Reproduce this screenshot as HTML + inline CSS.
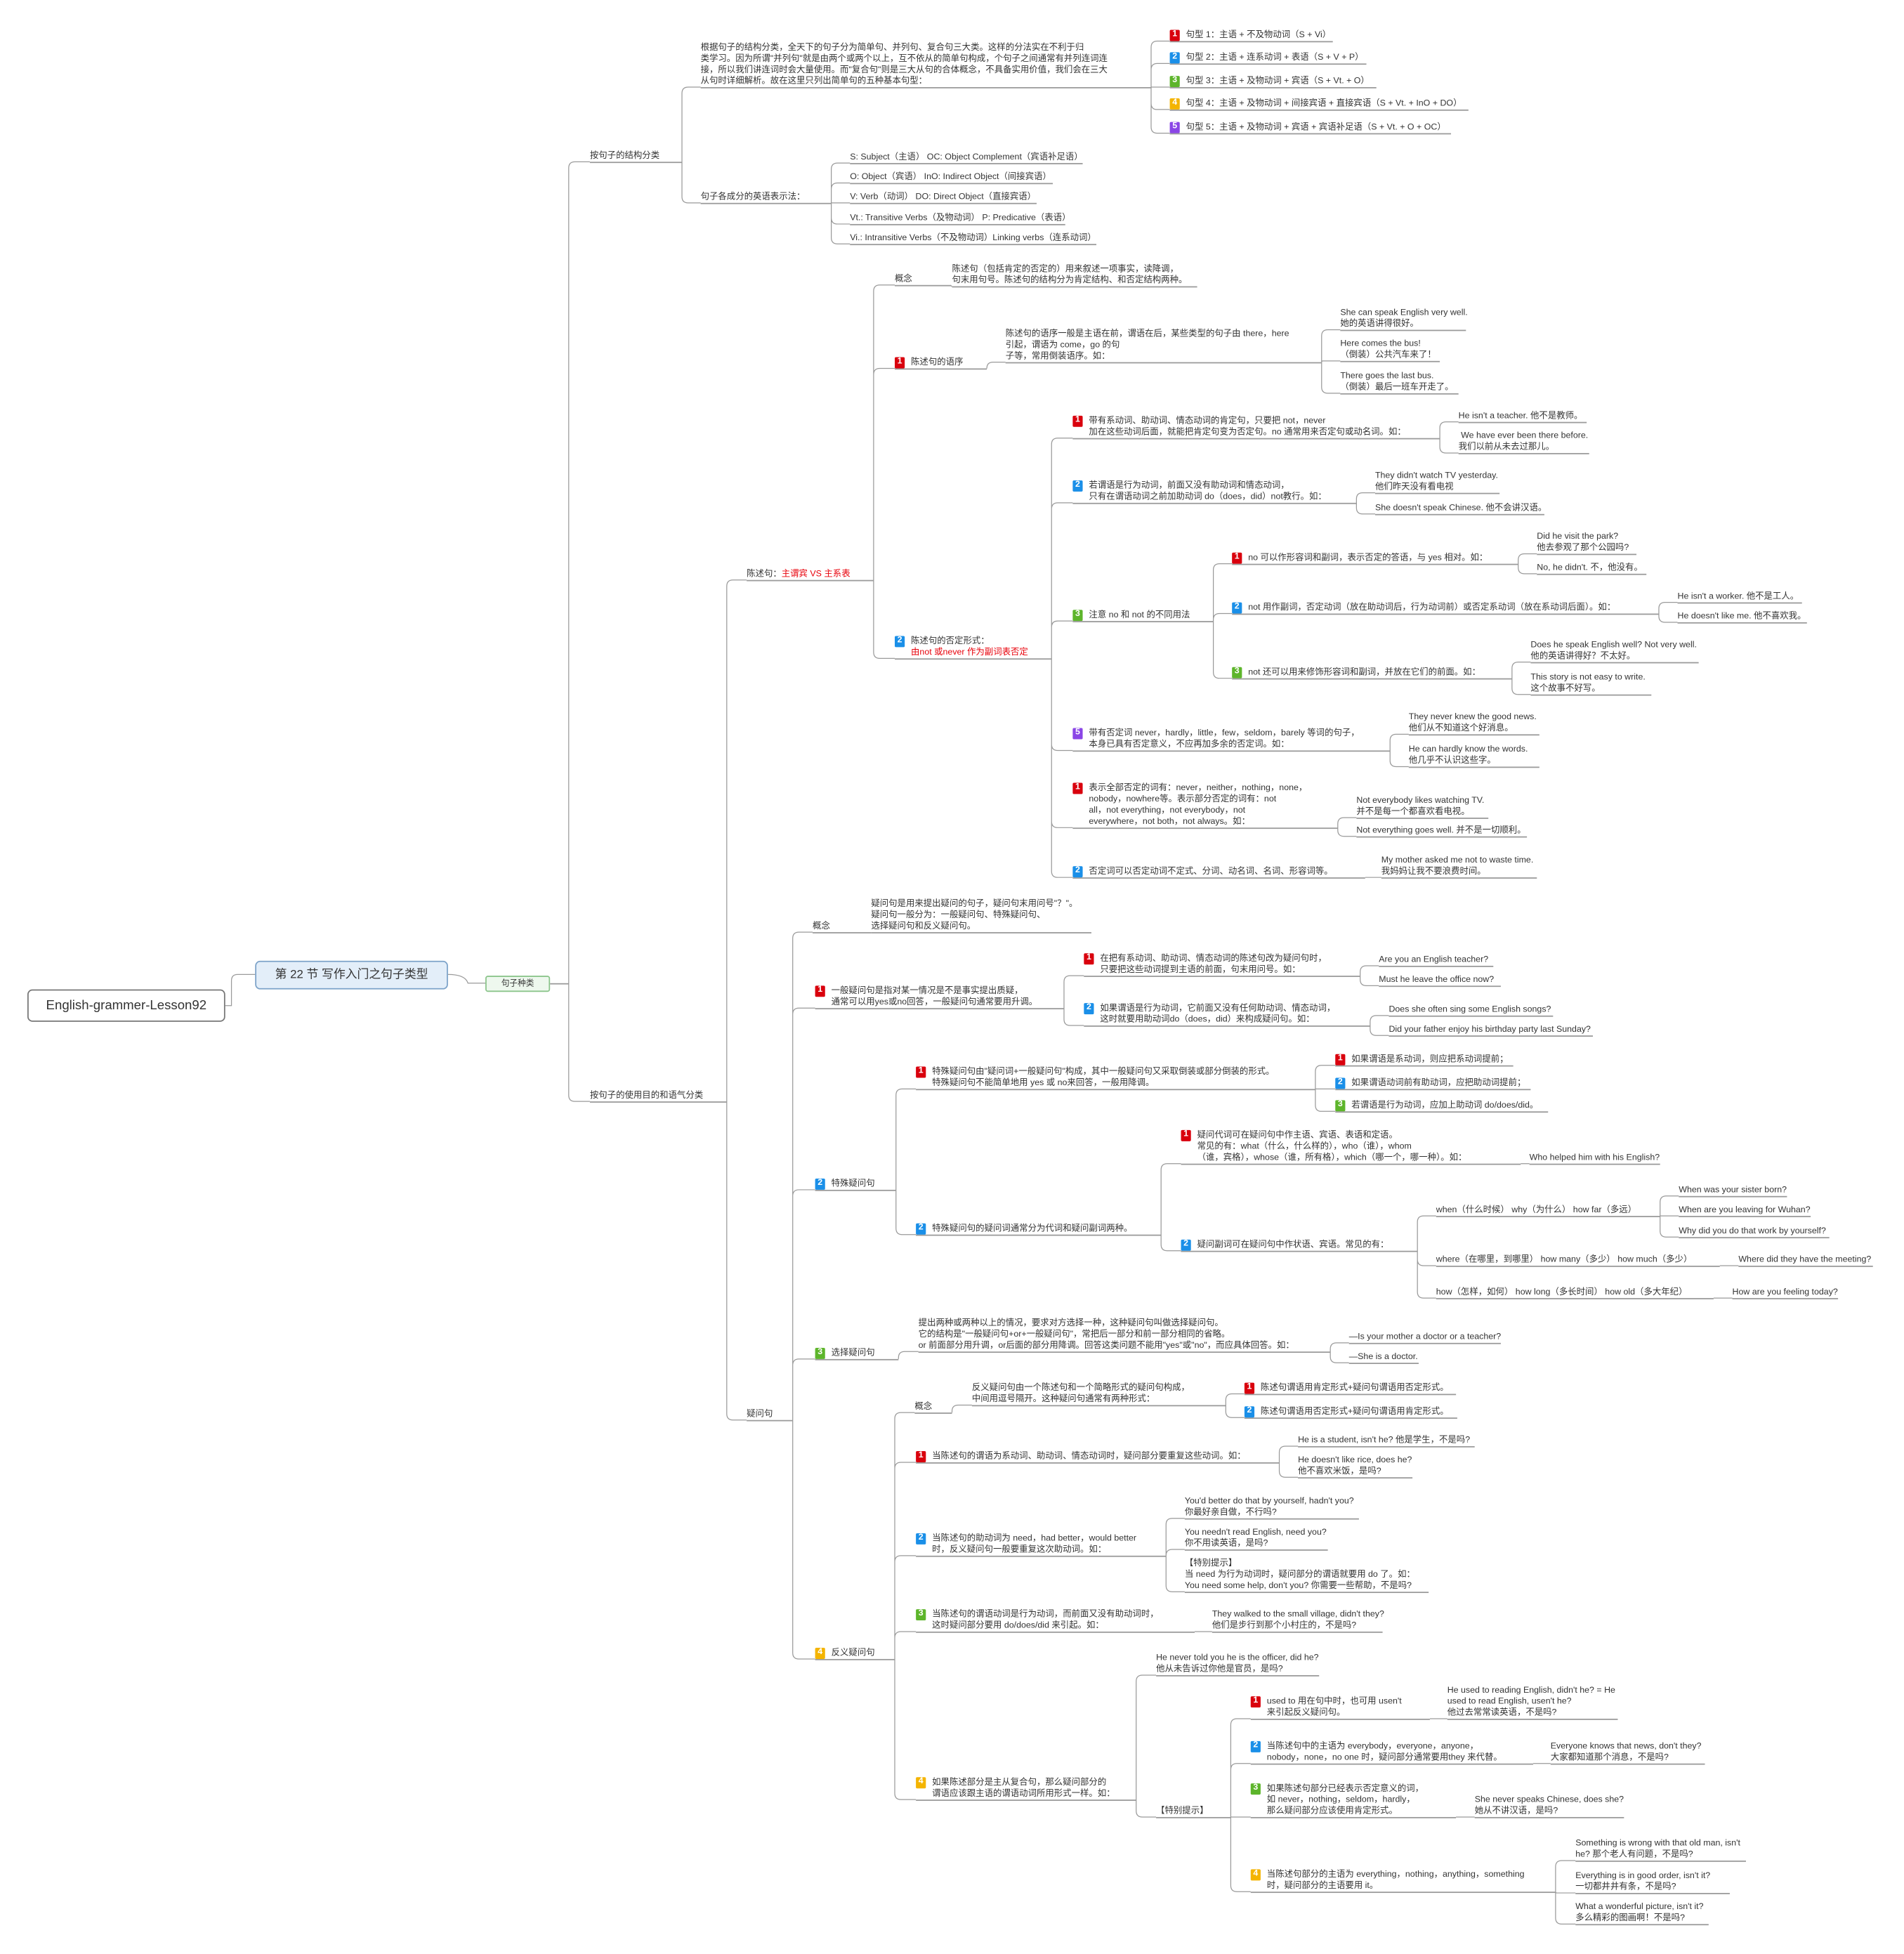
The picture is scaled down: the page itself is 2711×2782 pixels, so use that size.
<!DOCTYPE html>
<html><head><meta charset="utf-8">
<style>
html,body{margin:0;padding:0;background:#fff;width:2711px;height:2782px;overflow:hidden}
#m{position:absolute;left:0;top:0;width:1530px;height:1570px;transform:scale(1.7719);transform-origin:0 0;font-family:"Liberation Sans","Noto Sans CJK SC",sans-serif;color:#333}
.n{position:absolute;height:0;border-top:0.7px solid #9a9a9a}
.n>span{position:absolute;left:0;bottom:1.2px;white-space:nowrap;font-size:7px;line-height:9px}
.n.b>span{padding-left:13px}
.n.b>span>i{position:absolute;left:0;top:0.5px;width:8px;height:8.5px;color:#fff;font-style:normal;font-weight:bold;font-size:7px;line-height:8.5px;text-align:center;border-radius:1px}
i.r{background:#d9000d}i.u{background:#1a8fe8}i.g{background:#5db52b}i.y{background:#f4b400}i.p{background:#8a45e6}
.red{color:#e8000a}
svg{position:absolute;left:0;top:0}
.box{position:absolute;box-sizing:border-box;text-align:center}
</style></head><body>
<div id="m">
<svg id="sv" width="1530" height="1570"><g id="g" fill="none" stroke="#9a9a9a" stroke-width="0.7">
<path d="M181,808 H186 V788 Q186,783 191,783 H205"/>
<path d="M360,783 Q374,783 376,790 H390"/>
</g></svg>
<div class="box" style="left:22px;top:795px;width:159px;height:26px;border:0.8px solid #777;border-radius:4px;font-size:10.5px;line-height:25px">English-grammer-Lesson92</div>
<div class="box" style="left:205px;top:772px;width:155px;height:23px;border:0.8px solid #7da3c9;background:#e3eef9;border-radius:4px;font-size:9.5px;line-height:22px">第 22 节 写作入门之句子类型</div>
<div class="box" style="left:390px;top:784px;width:52px;height:13px;border:0.7px solid #8cc58c;background:#eef8ee;border-radius:2px;font-size:6.6px;line-height:12px">句子种类</div>

<div class="n" id="k" style="left:442px;top:790px;width:15px"></div>
<div class="n" id="a1" style="left:474px;top:130px;width:74px"><span>按句子的结构分类</span></div>
<div class="n" id="a1p" style="left:563px;top:70px;width:362px"><span>根据句子的结构分类，全天下的句子分为简单句、并列句、复合句三大类。这样的分法实在不利于归<br>类学习。因为所谓"并列句"就是由两个或两个以上，互不依从的简单句构成，个句子之间通常有并列连词连<br>接，所以我们讲连词时会大量使用。而"复合句"则是三大从句的合体概念，不具备实用价值，我们会在三大<br>从句时详细解析。故在这里只列出简单句的五种基本句型：</span></div>
<div class="n b" id="t1" style="left:940px;top:33px;width:131px"><span><i class="r">1</i>句型 1：主语 + 不及物动词（S + Vi）</span></div>
<div class="n b" id="t2" style="left:940px;top:51px;width:158px"><span><i class="u">2</i>句型 2：主语 + 连系动词 + 表语（S + V + P）</span></div>
<div class="n b" id="t3" style="left:940px;top:70px;width:166px"><span><i class="g">3</i>句型 3：主语 + 及物动词 + 宾语（S + Vt. + O）</span></div>
<div class="n b" id="t4" style="left:940px;top:88px;width:240px"><span><i class="y">4</i>句型 4：主语 + 及物动词 + 间接宾语 + 直接宾语（S + Vt. + InO + DO）</span></div>
<div class="n b" id="t5" style="left:940px;top:107px;width:226px"><span><i class="p">5</i>句型 5：主语 + 及物动词 + 宾语 + 宾语补足语（S + Vt. + O + OC）</span></div>
<div class="n" id="a1b" style="left:563px;top:163px;width:105px"><span>句子各成分的英语表示法：</span></div>
<div class="n" id="s1" style="left:683px;top:131px;width:187px"><span>S: Subject（主语） OC: Object Complement（宾语补足语）</span></div>
<div class="n" id="s2" style="left:683px;top:147px;width:163px"><span>O: Object（宾语） InO: Indirect Object（间接宾语）</span></div>
<div class="n" id="s3" style="left:683px;top:163px;width:150px"><span>V: Verb（动词） DO: Direct Object（直接宾语）</span></div>
<div class="n" id="s4" style="left:683px;top:180px;width:173px"><span>Vt.: Transitive Verbs（及物动词） P: Predicative（表语）</span></div>
<div class="n" id="s5" style="left:683px;top:196px;width:198px"><span>Vi.: Intransitive Verbs（不及物动词）Linking verbs（连系动词）</span></div>

<div class="n" id="a2" style="left:474px;top:885px;width:110px"><span>按句子的使用目的和语气分类</span></div>
<div class="n" id="c" style="left:600px;top:466px;width:102px"><span>陈述句：<b class="red" style="font-weight:normal">主谓宾 VS 主系表</b></span></div>
<div class="n" id="c0" style="left:719px;top:229px;width:45px"><span>概念</span></div>
<div class="n" id="c0p" style="left:765px;top:230px;width:197px"><span>陈述句（包括肯定的否定的）用来叙述一项事实，读降调，<br>句末用句号。陈述句的结构分为肯定结构、和否定结构两种。</span></div>
<div class="n b" id="c1" style="left:719px;top:296px;width:74px"><span><i class="r">1</i>陈述句的语序</span></div>
<div class="n" id="c1p" style="left:808px;top:291px;width:254px"><span>陈述句的语序一般是主语在前，谓语在后，某些类型的句子由 there，here<br>引起，谓语为 come，go 的句<br>子等，常用倒装语序。如：</span></div>
<div class="n" id="c1e1" style="left:1077px;top:265px;width:101px"><span>She can speak English very well.<br>她的英语讲得很好。</span></div>
<div class="n" id="c1e2" style="left:1077px;top:290px;width:80px"><span>Here comes the bus!<br>（倒装）公共汽车来了！</span></div>
<div class="n" id="c1e3" style="left:1077px;top:316px;width:95px"><span>There goes the last bus.<br>（倒装）最后一班车开走了。</span></div>
<div class="n b" id="c2" style="left:719px;top:529px;width:126px"><span><i class="u">2</i>陈述句的否定形式：<br><b class="red" style="font-weight:normal">由not 或never 作为副词表否定</b></span></div>
<div class="n b" id="n1" style="left:862px;top:352px;width:295px"><span><i class="r">1</i>带有系动词、助动词、情态动词的肯定句，只要把 not，never<br>加在这些动词后面，就能把肯定句变为否定句。no 通常用来否定句或动名词。如：</span></div>
<div class="n" id="n1a" style="left:1172px;top:339px;width:103px"><span>He isn't a teacher. 他不是教师。</span></div>
<div class="n" id="n1b" style="left:1172px;top:364px;width:105px"><span>&nbsp;We have ever been there before.<br>我们以前从未去过那儿。</span></div>
<div class="n b" id="n2" style="left:862px;top:404px;width:228px"><span><i class="u">2</i>若谓语是行为动词，前面又没有助动词和情态动词，<br>只有在谓语动词之前加助动词 do（does，did）not教行。如：</span></div>
<div class="n" id="n2a" style="left:1105px;top:396px;width:100px"><span>They didn't watch TV yesterday.<br>他们昨天没有看电视</span></div>
<div class="n" id="n2b" style="left:1105px;top:413px;width:136px"><span>She doesn't speak Chinese. 他不会讲汉语。</span></div>
<div class="n b" id="n3" style="left:862px;top:499px;width:113px"><span><i class="g">3</i>注意 no 和 not 的不同用法</span></div>
<div class="n b" id="n31" style="left:990px;top:453px;width:230px"><span><i class="r">1</i>no 可以作形容词和副词，表示否定的答语，与 yes 相对。如：</span></div>
<div class="n" id="n31a" style="left:1235px;top:445px;width:80px"><span>Did he visit the park?<br>他去参观了那个公园吗?</span></div>
<div class="n" id="n31b" style="left:1235px;top:461px;width:88px"><span>No, he didn't. 不，他没有。</span></div>
<div class="n b" id="n32" style="left:990px;top:493px;width:343px"><span><i class="u">2</i>not 用作副词，否定动词（放在助动词后，行为动词前）或否定系动词（放在系动词后面）。如：</span></div>
<div class="n" id="n32a" style="left:1348px;top:484px;width:100px"><span>He isn't a worker. 他不是工人。</span></div>
<div class="n" id="n32b" style="left:1348px;top:500px;width:104px"><span>He doesn't like me. 他不喜欢我。</span></div>
<div class="n b" id="n33" style="left:990px;top:545px;width:225px"><span><i class="g">3</i>not 还可以用来修饰形容词和副词，并放在它们的前面。如：</span></div>
<div class="n" id="n33a" style="left:1230px;top:532px;width:135px"><span>Does he speak English well? Not very well.<br>他的英语讲得好？不太好。</span></div>
<div class="n" id="n33b" style="left:1230px;top:558px;width:97px"><span>This story is not easy to write.<br>这个故事不好写。</span></div>
<div class="n b" id="n5" style="left:862px;top:603px;width:255px"><span><i class="p">5</i>带有否定词 never，hardly，little，few，seldom，barely 等词的句子，<br>本身已具有否定意义，不应再加多余的否定词。如：</span></div>
<div class="n" id="n5a" style="left:1132px;top:590px;width:105px"><span>They never knew the good news.<br>他们从不知道这个好消息。</span></div>
<div class="n" id="n5b" style="left:1132px;top:616px;width:105px"><span>He can hardly know the words.<br>他几乎不认识这些字。</span></div>
<div class="n b" id="n6" style="left:862px;top:665px;width:213px"><span><i class="r">1</i>表示全部否定的词有：never，neither，nothing，none，<br>nobody，nowhere等。表示部分否定的词有：not<br>all，not everything，not everybody，not<br>everywhere，not both，not always。如：</span></div>
<div class="n" id="n6a" style="left:1090px;top:657px;width:106px"><span>Not everybody likes watching TV.<br>并不是每一个都喜欢看电视。</span></div>
<div class="n" id="n6b" style="left:1090px;top:672px;width:137px"><span>Not everything goes well. 并不是一切顺利。</span></div>
<div class="n b" id="n7" style="left:862px;top:705px;width:235px"><span><i class="u">2</i>否定词可以否定动词不定式、分词、动名词、名词、形容词等。</span></div>
<div class="n" id="n7a" style="left:1110px;top:705px;width:125px"><span>My mother asked me not to waste time.<br>我妈妈让我不要浪费时间。</span></div>

<div class="n" id="q" style="left:600px;top:1141px;width:37px"><span>疑问句</span></div>
<div class="n" id="q0" style="left:653px;top:749px;width:47px"><span>概念</span></div>
<div class="n" id="q0p" style="left:700px;top:749px;width:177px"><span>疑问句是用来提出疑问的句子，疑问句末用问号"？"。<br>疑问句一般分为：一般疑问句、特殊疑问句、<br>选择疑问句和反义疑问句。</span></div>
<div class="n b" id="q1" style="left:655px;top:810px;width:200px"><span><i class="r">1</i>一般疑问句是指对某一情况是不是事实提出质疑，<br>通常可以用yes或no回答，一般疑问句通常要用升调。</span></div>
<div class="n b" id="q11" style="left:871px;top:784px;width:222px"><span><i class="r">1</i>在把有系动词、助动词、情态动词的陈述句改为疑问句时，<br>只要把这些动词提到主语的前面，句末用问号。如：</span></div>
<div class="n" id="q11a" style="left:1108px;top:776px;width:92px"><span>Are you an English teacher?</span></div>
<div class="n" id="q11b" style="left:1108px;top:792px;width:98px"><span>Must he leave the office now?</span></div>
<div class="n b" id="q12" style="left:871px;top:824px;width:230px"><span><i class="u">2</i>如果谓语是行为动词，它前面又没有任何助动词、情态动词，<br>这时就要用助动词do（does，did）来构成疑问句。如：</span></div>
<div class="n" id="q12a" style="left:1116px;top:816px;width:132px"><span>Does she often sing some English songs?</span></div>
<div class="n" id="q12b" style="left:1116px;top:832px;width:164px"><span>Did your father enjoy his birthday party last Sunday?</span></div>
<div class="n b" id="q2" style="left:655px;top:956px;width:65px"><span><i class="u">2</i>特殊疑问句</span></div>
<div class="n b" id="q21" style="left:736px;top:875px;width:321px"><span><i class="r">1</i>特殊疑问句由"疑问词+一般疑问句"构成，其中一般疑问句又采取倒装或部分倒装的形式。<br>特殊疑问句不能简单地用 yes 或 no来回答，一般用降调。</span></div>
<div class="n b" id="q21a" style="left:1073px;top:856px;width:143px"><span><i class="r">1</i>如果谓语是系动词，则应把系动词提前；</span></div>
<div class="n b" id="q21b" style="left:1073px;top:875px;width:157px"><span><i class="u">2</i>如果谓语动词前有助动词，应把助动词提前；</span></div>
<div class="n b" id="q21c" style="left:1073px;top:893px;width:171px"><span><i class="g">3</i>若谓语是行为动词，应加上助动词 do/does/did。</span></div>
<div class="n b" id="q22" style="left:736px;top:992px;width:197px"><span><i class="u">2</i>特殊疑问句的疑问词通常分为代词和疑问副词两种。</span></div>
<div class="n b" id="q221" style="left:949px;top:935px;width:273px"><span><i class="r">1</i>疑问代词可在疑问句中作主语、宾语、表语和定语。<br>常见的有：what（什么，什么样的），who（谁），whom<br>（谁，宾格），whose（谁，所有格），which（哪一个，哪一种）。如：</span></div>
<div class="n" id="q221a" style="left:1229px;top:935px;width:105px"><span>Who helped him with his English?</span></div>
<div class="n b" id="q222" style="left:949px;top:1005px;width:190px"><span><i class="u">2</i>疑问副词可在疑问句中作状语、宾语。常见的有：</span></div>
<div class="n" id="w1" style="left:1154px;top:977px;width:180px"><span>when（什么时候） why（为什么） how far（多远）</span></div>
<div class="n" id="w1a" style="left:1349px;top:961px;width:87px"><span>When was your sister born?</span></div>
<div class="n" id="w1b" style="left:1349px;top:977px;width:106px"><span>When are you leaving for Wuhan?</span></div>
<div class="n" id="w1c" style="left:1349px;top:994px;width:121px"><span>Why did you do that work by yourself?</span></div>
<div class="n" id="w2" style="left:1154px;top:1017px;width:228px"><span>where（在哪里，到哪里） how many（多少） how much（多少）</span></div>
<div class="n" id="w2a" style="left:1397px;top:1017px;width:108px"><span>Where did they have the meeting?</span></div>
<div class="n" id="w3" style="left:1154px;top:1043px;width:223px"><span>how（怎样，如何） how long（多长时间） how old（多大年纪）</span></div>
<div class="n" id="w3a" style="left:1392px;top:1043px;width:85px"><span>How are you feeling today?</span></div>
<div class="n b" id="q3" style="left:655px;top:1092px;width:67px"><span><i class="g">3</i>选择疑问句</span></div>
<div class="n" id="q3p" style="left:738px;top:1086px;width:331px"><span>提出两种或两种以上的情况，要求对方选择一种，这种疑问句叫做选择疑问句。<br>它的结构是"一般疑问句+or+一般疑问句"，常把后一部分和前一部分相同的省略。<br>or 前面部分用升调，or后面的部分用降调。回答这类问题不能用"yes"或"no"，而应具体回答。如：</span></div>
<div class="n" id="q3a" style="left:1084px;top:1079px;width:122px"><span>—Is your mother a doctor or a teacher?</span></div>
<div class="n" id="q3b" style="left:1084px;top:1095px;width:56px"><span>—She is a doctor.</span></div>
<div class="n b" id="q4" style="left:655px;top:1333px;width:64px"><span><i class="y">4</i>反义疑问句</span></div>
<div class="n" id="f0" style="left:735px;top:1135px;width:30px"><span>概念</span></div>
<div class="n" id="f0p" style="left:781px;top:1129px;width:204px"><span>反义疑问句由一个陈述句和一个简略形式的疑问句构成，<br>中间用逗号隔开。这种疑问句通常有两种形式：</span></div>
<div class="n b" id="f01" style="left:1000px;top:1120px;width:170px"><span><i class="r">1</i>陈述句谓语用肯定形式+疑问句谓语用否定形式。</span></div>
<div class="n b" id="f02" style="left:1000px;top:1139px;width:171px"><span><i class="u">2</i>陈述句谓语用否定形式+疑问句谓语用肯定形式。</span></div>
<div class="n b" id="f1" style="left:736px;top:1175px;width:292px"><span><i class="r">1</i>当陈述句的谓语为系动词、助动词、情态动词时，疑问部分要重复这些动词。如：</span></div>
<div class="n" id="f1a" style="left:1043px;top:1162px;width:142px"><span>He is a student, isn't he? 他是学生，不是吗?</span></div>
<div class="n" id="f1b" style="left:1043px;top:1187px;width:92px"><span>He doesn't like rice, does he?<br>他不喜欢米饭，是吗?</span></div>
<div class="n b" id="f2" style="left:736px;top:1250px;width:201px"><span><i class="u">2</i>当陈述句的助动词为 need，had better，would better<br>时，反义疑问句一般要重复这次助动词。如：</span></div>
<div class="n" id="f2a" style="left:952px;top:1220px;width:140px"><span>You'd better do that by yourself, hadn't you?<br>你最好亲自做，不行吗?</span></div>
<div class="n" id="f2b" style="left:952px;top:1245px;width:115px"><span>You needn't read English, need you?<br>你不用读英语，是吗?</span></div>
<div class="n" id="f2c" style="left:952px;top:1279px;width:196px"><span>【特别提示】<br>当 need 为行为动词时，疑问部分的谓语就要用 do 了。如：<br>You need some help, don't you? 你需要一些帮助，不是吗?</span></div>
<div class="n b" id="f3" style="left:736px;top:1311px;width:224px"><span><i class="g">3</i>当陈述句的谓语动词是行为动词，而前面又没有助动词时，<br>这时疑问部分要用 do/does/did 来引起。如：</span></div>
<div class="n" id="f3a" style="left:974px;top:1311px;width:137px"><span>They walked to the small village, didn't they?<br>他们是步行到那个小村庄的，不是吗?</span></div>
<div class="n b" id="f4" style="left:736px;top:1446px;width:177px"><span><i class="y">4</i>如果陈述部分是主从复合句，那么疑问部分的<br>谓语应该跟主语的谓语动词所用形式一样。如：</span></div>
<div class="n" id="f4a" style="left:929px;top:1346px;width:131px"><span>He never told you he is the officer, did he?<br>他从未告诉过你他是官员，是吗?</span></div>
<div class="n" id="f4b" style="left:929px;top:1460px;width:60px"><span>【特别提示】</span></div>
<div class="n b" id="g1" style="left:1005px;top:1381px;width:144px"><span><i class="r">1</i>used to 用在句中时，也可用 usen't<br>来引起反义疑问句。</span></div>
<div class="n" id="g1a" style="left:1163px;top:1381px;width:137px"><span>He used to reading English, didn't he? = He<br>used to read English, usen't he?<br>他过去常常读英语，不是吗?</span></div>
<div class="n b" id="g2" style="left:1005px;top:1417px;width:227px"><span><i class="u">2</i>当陈述句中的主语为 everybody，everyone，anyone，<br>nobody，none，no one 时，疑问部分通常要用they 来代替。</span></div>
<div class="n" id="g2a" style="left:1246px;top:1417px;width:124px"><span>Everyone knows that news, don't they?<br>大家都知道那个消息，不是吗?</span></div>
<div class="n b" id="g3" style="left:1005px;top:1460px;width:165px"><span><i class="g">3</i>如果陈述句部分已经表示否定意义的词，<br>如 never，nothing，seldom，hardly，<br>那么疑问部分应该使用肯定形式。</span></div>
<div class="n" id="g3a" style="left:1185px;top:1460px;width:120px"><span>She never speaks Chinese, does she?<br>她从不讲汉语，是吗?</span></div>
<div class="n b" id="g4" style="left:1005px;top:1520px;width:245px"><span><i class="y">4</i>当陈述句部分的主语为 everything，nothing，anything，something<br>时，疑问部分的主语要用 it。</span></div>
<div class="n" id="g4a" style="left:1266px;top:1495px;width:137px"><span>Something is wrong with that old man, isn't<br>he? 那个老人有问题，不是吗?</span></div>
<div class="n" id="g4b" style="left:1266px;top:1521px;width:124px"><span>Everything is in good order, isn't it?<br>一切都井井有条，不是吗?</span></div>
<div class="n" id="g4c" style="left:1266px;top:1546px;width:107px"><span>What a wonderful picture, isn't it?<br>多么精彩的图画啊！不是吗?</span></div>
</div>
<script>
(function(){
var L=[["k","a1 a2"],["a1","a1p a1b"],["a1p","t1 t2 t3 t4 t5"],["a1b","s1 s2 s3 s4 s5"],["a2","c q"],
["c","c0 c1 c2"],["c0","c0p"],["c1","c1p"],["c1p","c1e1 c1e2 c1e3"],["c2","n1 n2 n3 n5 n6 n7"],
["n1","n1a n1b"],["n2","n2a n2b"],["n3","n31 n32 n33"],["n31","n31a n31b"],["n32","n32a n32b"],["n33","n33a n33b"],
["n5","n5a n5b"],["n6","n6a n6b"],["n7","n7a"],["q","q0 q1 q2 q3 q4"],["q0","q0p"],["q1","q11 q12"],
["q11","q11a q11b"],["q12","q12a q12b"],["q2","q21 q22"],["q21","q21a q21b q21c"],["q22","q221 q222"],
["q221","q221a"],["q222","w1 w2 w3"],["w1","w1a w1b w1c"],["w2","w2a"],["w3","w3a"],["q3","q3p"],["q3p","q3a q3b"],
["q4","f0 f1 f2 f3 f4"],["f0","f0p"],["f0p","f01 f02"],["f1","f1a f1b"],["f2","f2a f2b f2c"],["f3","f3a"],
["f4","f4a f4b"],["f4b","g1 g2 g3 g4"],["g1","g1a"],["g2","g2a"],["g3","g3a"],["g4","g4a g4b g4c"]];
function P(id){var s=document.getElementById(id).style;return [parseFloat(s.left),parseFloat(s.top),parseFloat(s.width)];}
var g=document.getElementById("g"),d="";
L.forEach(function(e){var p=P(e[0]),px=p[0]+p[2],py=p[1];
e[1].split(" ").forEach(function(c){var q=P(c),cx=q[0],cy=q[1],r=5;
if(Math.abs(cy-py)<1){d+="M"+px+","+py+"H"+cx;}
else{var s=cy<py?1:-1;if(Math.abs(cy-py)<r)r=Math.abs(cy-py);
d+="M"+px+","+py+"V"+(cy+s*r)+"Q"+px+","+cy+" "+(px+r)+","+cy+"H"+cx;}});});
var pa=document.createElementNS("http://www.w3.org/2000/svg","path");pa.setAttribute("d",d);g.appendChild(pa);
})();
</script>
</body></html>
